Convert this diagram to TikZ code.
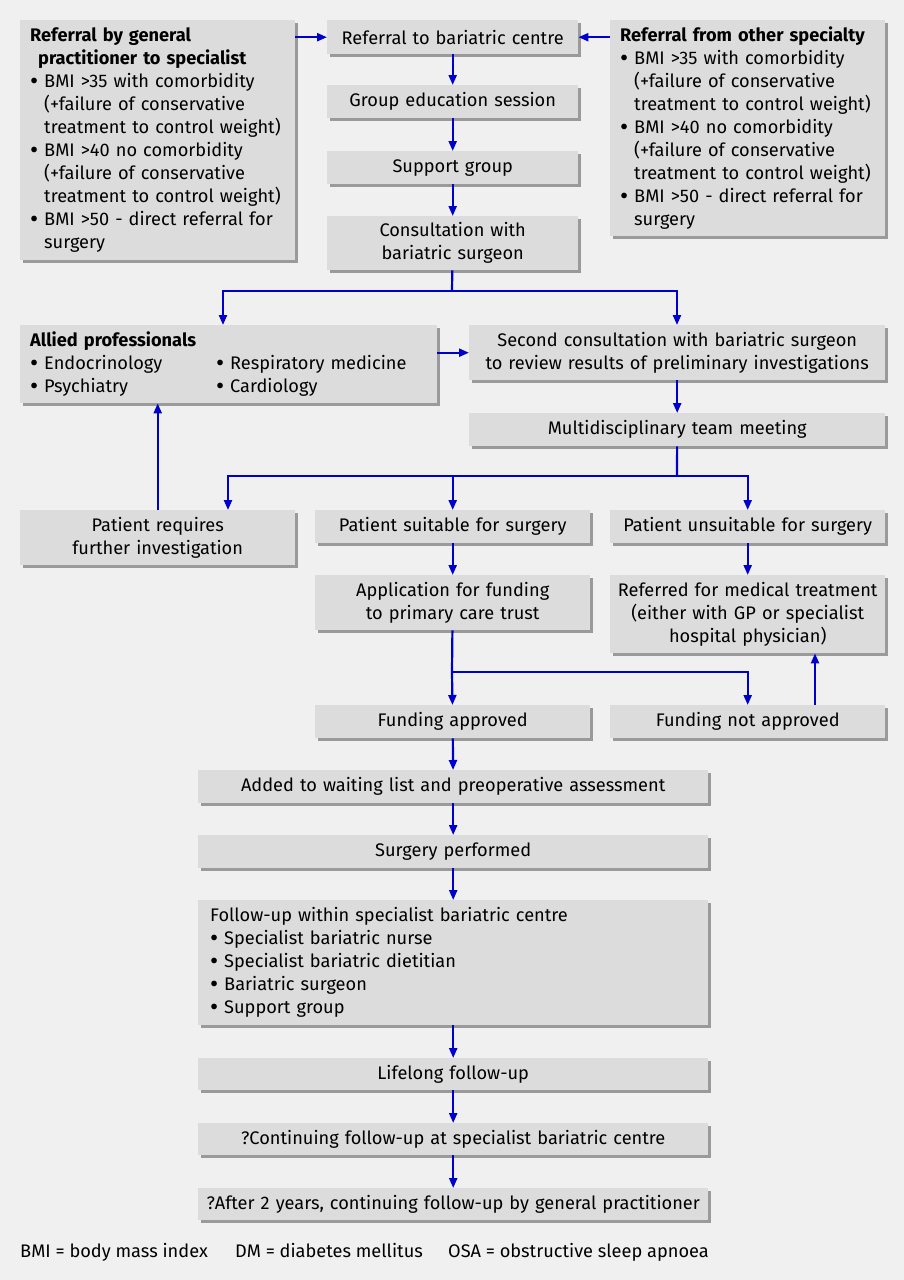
\documentclass[tikz,border=0pt]{standalone}
\usepackage{fontspec}
\setmainfont{Fira Sans}
\usetikzlibrary{arrows.meta,shadows}

\definecolor{bgcol}{HTML}{F0F0F0}
\definecolor{boxcol}{HTML}{DCDCDC}
\definecolor{shadecol}{HTML}{9A9A9A}
\definecolor{flowblue}{HTML}{0000CC}

\newcommand{\fs}{\fontsize{18.2}{23}\selectfont}
\newcommand{\bul}{\makebox[14pt][l]{\raisebox{-1.5pt}{\fontsize{25}{23}\selectfont\textbullet}}}
\newcommand{\ind}{\hspace*{14pt}}

\tikzset{
  box/.style={fill=boxcol, anchor=north west, inner xsep=5pt, inner ysep=0pt,
    align=center, font=\fs,
    drop shadow={shadow xshift=3pt, shadow yshift=-3pt, fill=shadecol, opacity=1}},
  lbox/.style={box, align=left, inner xsep=10pt},
  link/.style={draw=flowblue, line width=2.2pt},
  arr/.style={link, -{Triangle[length=10pt,width=8pt]}},
}

\begin{document}
\begin{tikzpicture}[x=1pt,y=-1pt]
    % Page and background
    \useasboundingbox (0,0) rectangle (904,1280);
    \fill[bgcol] (0,0) rectangle (904,1280);

    % Referral boxes at the top
    \node[lbox, text width=255pt, minimum height=240pt] (gp) at (20,20)
      {\textbf{Referral by general}\\
       \hspace*{8pt}\textbf{practitioner to specialist}\\
       \bul BMI >35 with comorbidity\\
       \ind(+failure of conservative\\
       \ind treatment to control weight)\\
       \bul BMI >40 no comorbidity\\
       \ind(+failure of conservative\\
       \ind treatment to control weight)\\
       \bul BMI >50 - direct referral for\\
       \ind surgery};
    \node[lbox, text width=255pt, minimum height=216pt] (other) at (610,20)
      {\textbf{Referral from other specialty}\\
       \bul BMI >35 with comorbidity\\
       \ind(+failure of conservative\\
       \ind treatment to control weight)\\
       \bul BMI >40 no comorbidity\\
       \ind(+failure of conservative\\
       \ind treatment to control weight)\\
       \bul BMI >50 - direct referral for\\
       \ind surgery};

    % Central column
    \node[box, text width=241pt, minimum height=34pt] (refc) at (327,20) {Referral to bariatric centre};
    \node[box, text width=241pt, minimum height=33pt] (group) at (327,85) {Group education session};
    \node[box, text width=241pt, minimum height=33pt] (supp) at (327,151) {Support group};
    \node[box, text width=241pt, minimum height=54pt] (consult) at (327,216) {Consultation with\\bariatric surgeon};

    % Investigations
    \node[lbox, text width=397pt, minimum height=78pt] (allied) at (20,325)
      {\textbf{Allied professionals}\\
       \makebox[186pt][l]{\bul Endocrinology}\bul Respiratory medicine\\
       \makebox[186pt][l]{\bul Psychiatry}\bul Cardiology};
    \node[box, text width=406pt, minimum height=55pt] (second) at (469,325)
      {Second consultation with bariatric surgeon\\to review results of preliminary investigations};
    \node[box, text width=406pt, minimum height=33pt] (mdt) at (469,413) {Multidisciplinary team meeting};

    % Outcomes of the team meeting
    \node[box, text width=265pt, minimum height=55pt] (further) at (20,510) {Patient requires\\further investigation};
    \node[box, text width=265pt, minimum height=33pt] (suit) at (315,510) {Patient suitable for surgery};
    \node[box, text width=265pt, minimum height=33pt] (unsuit) at (610,510) {Patient unsuitable for surgery};
    \node[box, text width=265pt, minimum height=55pt] (appl) at (315,575) {Application for funding\\to primary care trust};
    \node[box, text width=265pt, minimum height=78pt] (referred) at (610,575)
      {Referred for medical treatment\\(either with GP or specialist\\hospital physician)};
    \node[box, text width=265pt, minimum height=33pt] (fundok) at (315,705) {Funding approved};
    \node[box, text width=265pt, minimum height=33pt] (fundno) at (610,705) {Funding not approved};

    % Surgery and follow-up
    \node[box, text width=500pt, minimum height=33pt] (added) at (198,770) {Added to waiting list and preoperative assessment};
    \node[box, text width=500pt, minimum height=33pt] (surgery) at (198,835) {Surgery performed};
    \node[lbox, inner xsep=12pt, text width=486pt, minimum height=125pt] (follow) at (198,900)
      {Follow-up within specialist bariatric centre\\
       \bul Specialist bariatric nurse\\
       \bul Specialist bariatric dietitian\\
       \bul Bariatric surgeon\\
       \bul Support group};
    \node[box, text width=500pt, minimum height=32pt] (life) at (198,1058) {Lifelong follow-up};
    \node[box, text width=500pt, minimum height=32pt] (cont) at (198,1123) {?Continuing follow-up at specialist bariatric centre};
    \node[box, text width=500pt, minimum height=32pt] (after) at (198,1188) {?After 2 years, continuing follow-up by general practitioner};

    % Legend
    \node[anchor=base west, inner sep=0pt, font=\fs] (leg1) at (20,1257) {BMI = body mass index};
    \node[anchor=base west, inner sep=0pt, font=\fs] (leg2) at (235,1257) {DM = diabetes mellitus};
    \node[anchor=base west, inner sep=0pt, font=\fs] (leg3) at (448,1257) {OSA = obstructive sleep apnoea};

    % Fork points
    \coordinate (consultfork) at (452,291);
    \coordinate (alliedin) at (223,325);
    \coordinate (secondin) at (677,325);
    \coordinate (mdtfork) at (677,476);
    \coordinate (furtherin) at (228,510);
    \coordinate (applfork) at (452,672);
    \coordinate (nax) at (815,0);

    % Connectors
    \draw[arr] (gp.east |- refc) -- (refc.west);
    \draw[arr] (other.west |- refc) -- (refc.east);
    \draw[arr] (refc) -- (group);
    \draw[arr] (group) -- (supp);
    \draw[arr] (supp) -- (consult);
    \draw[link] (consult) -- (consultfork);
    \draw[arr] (consultfork) -| (alliedin);
    \draw[arr] (consultfork) -| (secondin);
    \draw[arr] (allied.east |- second) -- (second.west);
    \draw[arr] (second) -- (mdt);
    \draw[link] (mdt) -- (mdtfork);
    \draw[arr] (mdtfork) -| (furtherin);
    \draw[arr] (mdtfork) -| (unsuit.north);
    \draw[arr] (suit.north |- mdtfork) -- (suit);
    \draw[arr] (further.north) -- (further.north |- allied.south);
    \draw[arr] (suit) -- (appl);
    \draw[arr] (unsuit) -- (referred);
    \draw[link] (appl) -- (applfork);
    \draw[arr] (applfork) -- (fundok);
    \draw[arr] (applfork) -| (fundno.north);
    \draw[arr] (fundno.north -| nax) -- (referred.south -| nax);
    \draw[arr] (fundok) -- (added);
    \draw[arr] (added) -- (surgery);
    \draw[arr] (surgery) -- (follow);
    \draw[arr] (follow) -- (life);
    \draw[arr] (life) -- (cont);
    \draw[arr] (cont) -- (after);

\end{tikzpicture}
\end{document}
